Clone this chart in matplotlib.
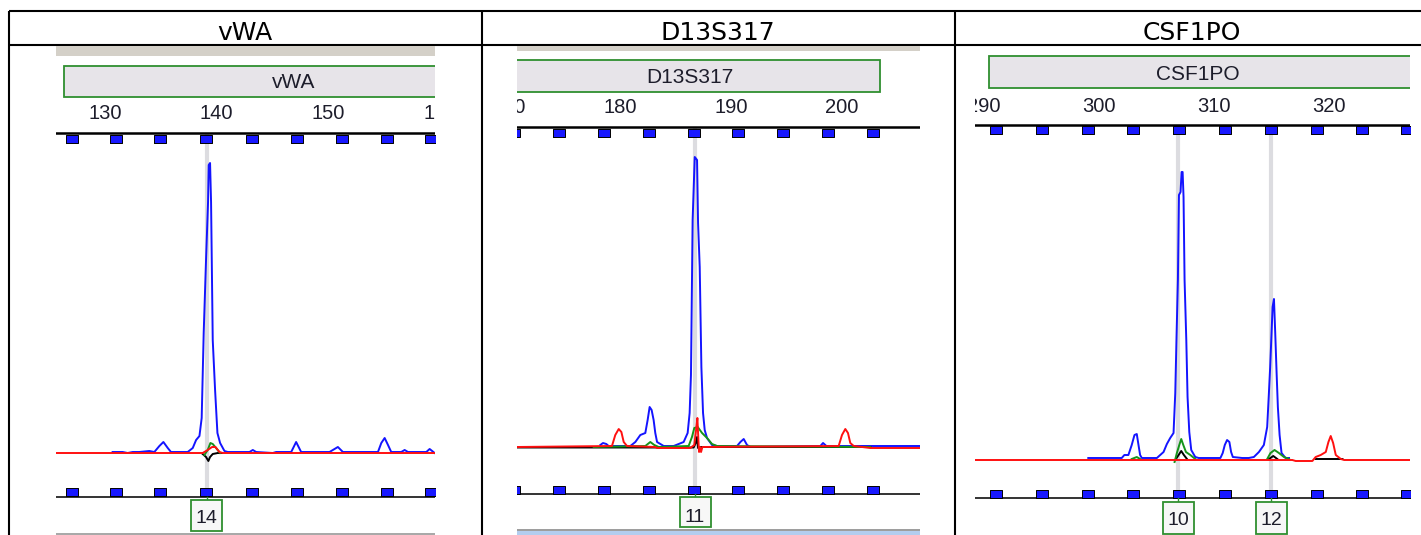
import numpy as np
import matplotlib
matplotlib.use("Agg")
import matplotlib.pyplot as plt
import matplotlib.transforms as mtransforms
from matplotlib.patches import Rectangle

nan = np.nan

# ---- values (bp, RFU) ----
loci = ["vWA", "D13S317", "CSF1PO"]

vwa_span = (125.61, 159.56)
vwa_ticks = [130, 140, 150, 160]
vwa_bins = [127.05, 130.99, 134.97, 139.04, 143.16, 147.23, 151.26, 155.24, 159.22]
vwa_calls = [139.13]
vwa_call_labels = ["14"]
vwa_blue_bp = [130.68, 131.58, 132.03, 132.48, 133.07, 133.97, 134.42, 134.87, 135.23, 135.62,
               135.91, 137.41, 137.86, 138.16, 138.46, 138.66, 138.84, 139.05, 139.23, 139.29,
               139.41, 139.50, 139.65, 139.86, 140.07, 140.31, 140.70, 141.00, 142.94, 143.24,
               143.54, 145.03, 145.33, 146.68, 147.12, 147.57, 149.22, 150.11, 150.86, 151.31,
               153.40, 154.45, 154.75, 155.05, 155.35, 155.64, 156.54, 156.84, 157.14, 158.19,
               158.78, 159.08, 159.53]
vwa_blue_rfu = [10, 10, 0, 10, 10, 20, 10, 70, 110, 50,
                10, 10, 50, 130, 170, 350, 1200, 1930, 2510, 2880,
                2900, 2510, 1130, 630, 200, 100, 20, 10, 10, 30,
                10, 0, 10, 10, 110, 10, 10, 10, 60, 10,
                10, 10, 100, 150, 80, 10, 10, 30, 10, 10,
                10, 40, 0]
vwa_black_bp = [138.75, 139.05, 139.26, 139.41, 139.65, 140.10, 140.49]
vwa_black_rfu = [-10, -40, -80, -40, -10, 0, 0]
vwa_green_bp = [138.90, 139.20, 139.44, 139.65, 139.95, 140.31]
vwa_green_rfu = [-20, 30, 100, 90, 50, 0]
vwa_red_bp = [125.61, 138.75, 139.20, 139.59, 139.89, 140.25, 140.55, 159.56]
vwa_red_rfu = [0, 0, 30, 60, 60, 10, 0, 0]

d13_span = (170.70, 207.07)
d13_ticks = [170, 180, 190, 200]
d13_bins = [170.43, 174.49, 178.55, 182.61, 186.67, 190.64, 194.70, 198.76, 202.82]
d13_calls = [186.77]
d13_call_labels = ["11"]
d13_blue_bp = [178.22, 178.46, 178.76, 178.97, 180.93, 181.38, 181.83, 182.28, 182.49, 182.67,
               182.85, 183.03, 183.18, 183.34, 183.64, 183.94, 184.84, 185.29, 185.74, 186.10,
               186.28, 186.40, 186.55, 186.74, 186.95, 187.04, 187.19, 187.34, 187.49, 187.64,
               187.85, 188.30, 188.75, 190.56, 190.86, 191.16, 191.46, 191.76, 198.08, 198.32,
               198.62, 202.59, 207.07]
d13_blue_rfu = [20, 40, 30, 10, 10, 50, 120, 140, 270, 400,
                370, 270, 140, 50, 30, 10, 10, 30, 50, 140,
                340, 720, 2270, 2900, 2870, 2240, 1800, 800, 340, 170,
                90, 20, 10, 10, 50, 80, 20, 0, 10, 40,
                10, 10, 10]
d13_black_bp = [170.70, 186.64, 186.83, 186.95, 187.04, 187.19, 202.59]
d13_black_rfu = [-5, -5, 40, 100, -10, 0, 0]
d13_green_bp = [177.62, 182.28, 182.73, 183.09, 183.49, 186.19, 186.49, 186.70, 187.01, 187.40,
                187.85, 188.30, 188.75, 202.59]
d13_green_rfu = [0, 10, 50, 20, 0, 10, 100, 190, 200, 140, 90, 30, 10, 0]
d13_red_bp = [170.70, 179.27, 179.57, 179.88, 180.12, 180.33, 180.63, 183.18, 183.34, 186.34,
              186.70, 186.86, 186.98, 187.07, 187.13, 187.22, 187.31, 187.43, 199.73, 200.03,
              200.33, 200.57, 200.78, 201.09, 202.59, 207.07]
d13_red_rfu = [0, 10, 120, 180, 150, 50, 10, 0, -10, -10,
               20, 170, 290, 70, -50, 0, -50, 0, 10, 120,
               180, 140, 40, 10, -10, -10]

csf_span = (289.21, 327.07)
csf_ticks = [290, 300, 310, 320]
csf_bins = [291.04, 295.02, 299.02, 302.99, 306.99, 310.97, 314.97, 318.95, 322.89, 326.85]
csf_calls = [306.91, 315.01]
csf_call_labels = ["10", "12"]
csf_blue_bp = [299.07, 301.98, 302.21, 302.56, 302.85, 303.09, 303.29, 303.44, 303.58, 303.73,
               305.04, 305.33, 305.62, 305.91, 306.20, 306.49, 306.64, 306.75, 306.87, 306.96,
               307.10, 307.19, 307.28, 307.36, 307.45, 307.60, 307.71, 307.86, 308.03, 308.38,
               308.68, 310.57, 310.77, 310.95, 311.15, 311.35, 311.50, 311.65, 312.46, 313.04,
               313.48, 313.92, 314.35, 314.64, 314.79, 314.90, 315.02, 315.11, 315.23, 315.34,
               315.46, 315.57, 315.72, 315.89, 316.24, 316.54]
csf_blue_rfu = [20, 20, 50, 50, 150, 250, 260, 150, 50, 20,
                20, 50, 80, 160, 220, 270, 670, 1230, 1800, 2650,
                2680, 2880, 2880, 2630, 1800, 1200, 630, 280, 100, 30,
                20, 20, 70, 150, 200, 180, 80, 30, 20, 20,
                30, 80, 150, 330, 670, 930, 1270, 1530, 1610, 1270,
                870, 530, 250, 70, 20, 20]
csf_black_bp = [306.64, 306.93, 307.16, 307.39, 307.66, nan, 314.79, 315.17, 315.52, nan, 318.86, 321.19]
csf_black_rfu = [0, 50, 90, 50, 10, nan, 10, 40, 10, nan, 10, 10]
csf_green_bp = [302.85, 303.29, 303.58, nan, 306.58, 306.78, 306.99, 307.16, 307.34, 307.57, 307.95,
                308.38, nan, 314.64, 314.93, 315.28, 315.66, 316.10, 316.54]
csf_green_rfu = [10, 30, 10, nan, -20, 70, 150, 210, 150, 80, 50, 10, nan, 10, 70, 100, 70, 30, 10]
csf_red_bp = [289.21, 316.83, 317.12, 318.28, 318.57, 318.86, 319.30, 319.74, 319.97, 320.17,
              320.38, 320.61, 321.05, 321.34, 327.07]
csf_red_rfu = [0, 0, -10, -10, -10, 30, 50, 80, 180, 240, 170, 50, 10, 0, 0]

# ---- figure / layout (pixel positions in the 1421x535 picture) ----
W, H, DPI = 1421, 535, 100
RFU_PER_PX = 10
TXT = "#1d1d2b"
GREEN = "#2f8f2f"
DYE_COLORS = ["#1414ff", "black", "#15941a", "#ff1010"]
BIN_MARK = [(-1, -0.6), (1, -0.6), (1, 0.6), (-1, 0.6), (-1, -0.6)]

fig = plt.figure(figsize=(W / DPI, H / DPI), dpi=DPI)
fig.patch.set_facecolor("white")
PX = mtransforms.Affine2D().scale(1 / DPI, -1 / DPI).translate(0, H / DPI) + fig.dpi_scale_trans

# table grid + header row
tab = fig.add_axes([0, 0, 1, 1])
tab.set_xlim(0, W)
tab.set_ylim(H, 0)
tab.axis("off")
for y in (11, 45.3):
    tab.plot([9.3, W], [y, y], color="black", lw=1.5, solid_capstyle="butt")
for x in (9.3, 481.5, 955):
    tab.plot([x, x], [11, H], color="black", lw=1.5, solid_capstyle="butt")
for name, cx in zip(loci, (245, 718, 1192)):
    tab.text(cx, 39.5, name, ha="center", va="baseline", fontsize=18,
             family="DejaVu Sans", color="black")

layouts = [
    dict(x=(56, 435), baseline=453, top=133.3, bottom=497, top_sq=138.5, bot_sq=492,
         tick_y=119.3, bar=(46, 55.5), box=(64, 65.7, 470, 96.7), name_xy=(293.5, 88),
         call_box=(500, 530.5), call_y=523.3, strips=[(533, 535, "#a9a9a9")]),
    dict(x=(517, 920), baseline=447, top=126.5, bottom=494.3, top_sq=132.5, bot_sq=489.5,
         tick_y=113.3, bar=(46, 50.5), box=(500, 59.5, 880, 91.5), name_xy=(690, 83.3),
         call_box=(497, 527.3), call_y=521.7,
         strips=[(528.5, 530.5, "#9e9e9e"), (531, 535, "#b3cdef")]),
    dict(x=(975, 1410), baseline=460, top=124.7, bottom=498, top_sq=129.7, bot_sq=493.5,
         tick_y=111.7, bar=None, box=(989.3, 56, 1430, 88.3), name_xy=(1198, 80),
         call_box=(502, 533.5), call_y=525, strips=[]),
]

panels = [
    (vwa_span, vwa_ticks, vwa_bins, vwa_calls, vwa_call_labels,
     [(vwa_blue_bp, vwa_blue_rfu), (vwa_black_bp, vwa_black_rfu),
      (vwa_green_bp, vwa_green_rfu), (vwa_red_bp, vwa_red_rfu)]),
    (d13_span, d13_ticks, d13_bins, d13_calls, d13_call_labels,
     [(d13_blue_bp, d13_blue_rfu), (d13_black_bp, d13_black_rfu),
      (d13_green_bp, d13_green_rfu), (d13_red_bp, d13_red_rfu)]),
    (csf_span, csf_ticks, csf_bins, csf_calls, csf_call_labels,
     [(csf_blue_bp, csf_blue_rfu), (csf_black_bp, csf_black_rfu),
      (csf_green_bp, csf_green_rfu), (csf_red_bp, csf_red_rfu)]),
]


def draw_panel(name, lay, span, ticks, bins, calls, call_labels, traces):
    left, right = lay["x"]
    ax = fig.add_axes([left / W, 0, (right - left) / W, (H - 45) / H])
    ax.axis("off")
    ax.set_xlim(*span)
    base = lay["baseline"]
    ax.set_ylim((base - H) * RFU_PER_PX, (base - 45) * RFU_PER_PX)
    bt = mtransforms.blended_transform_factory(ax.transData, PX)
    px_per_bp = (right - left) / (span[1] - span[0])

    # window chrome of the screenshot
    if lay["bar"]:
        y0, y1 = lay["bar"]
        ax.add_patch(Rectangle((left, y0), right - left, y1 - y0, transform=PX,
                               fc="#d4d0c8", ec="none"))
    for y0, y1, col in lay["strips"]:
        ax.add_patch(Rectangle((left, y0), right - left, y1 - y0, transform=PX,
                               fc=col, ec="none"))
    x0, y0, x1, y1 = lay["box"]
    ax.add_patch(Rectangle((x0, y0), x1 - x0, y1 - y0, transform=PX,
                           fc="#e7e4e9", ec=GREEN, lw=1.3))
    ax.text(*lay["name_xy"], name, transform=PX, ha="center", va="baseline",
            fontsize=15, family="Liberation Sans", color=TXT, clip_on=True)

    # size scale
    for t in ticks:
        ax.text(t, lay["tick_y"], str(t), transform=bt, ha="center", va="baseline",
                fontsize=14.5, family="Liberation Sans", color=TXT, clip_on=True)
    ax.plot(span, [lay["top"]] * 2, transform=bt, color="black", lw=1.8, zorder=3)
    ax.plot(span, [lay["bottom"]] * 2, transform=bt, color="#333333", lw=1.4, zorder=3)
    for ysq in (lay["top_sq"], lay["bot_sq"]):
        ax.plot(bins, [ysq] * len(bins), transform=bt, ls="none", marker=BIN_MARK,
                ms=9, mfc="#1818ff", mec="black", mew=0.7, zorder=4)

    # allele call lines
    for c in calls:
        ax.plot([c, c], [lay["top"] + 2, lay["bottom"] - 2], transform=bt,
                color="#dcdce0", lw=3, zorder=1)

    # dye traces
    for (bp, rfu), col, z in zip(traces, DYE_COLORS, (2, 2.1, 2.2, 2.3)):
        ax.plot(bp, rfu, color=col, lw=1.4, zorder=z)

    # allele call labels
    c0, c1 = lay["call_box"]
    half = 15.5 / px_per_bp
    for c, lab in zip(calls, call_labels):
        ax.plot([c, c], [lay["bottom"], c0], transform=bt, color=GREEN, lw=1, zorder=4)
        ax.add_patch(Rectangle((c - half, c0), 2 * half, c1 - c0, transform=bt,
                               fc="#f7f7f7", ec=GREEN, lw=1.3, zorder=4))
        ax.text(c, lay["call_y"], lab, transform=bt, ha="center", va="baseline",
                fontsize=14, family="Liberation Sans", color=TXT, zorder=5)


for name, lay, (span, ticks, bins, calls, labels, traces) in zip(loci, layouts, panels):
    draw_panel(name, lay, span, ticks, bins, calls, labels, traces)

fig.savefig("out.png", dpi=DPI)
